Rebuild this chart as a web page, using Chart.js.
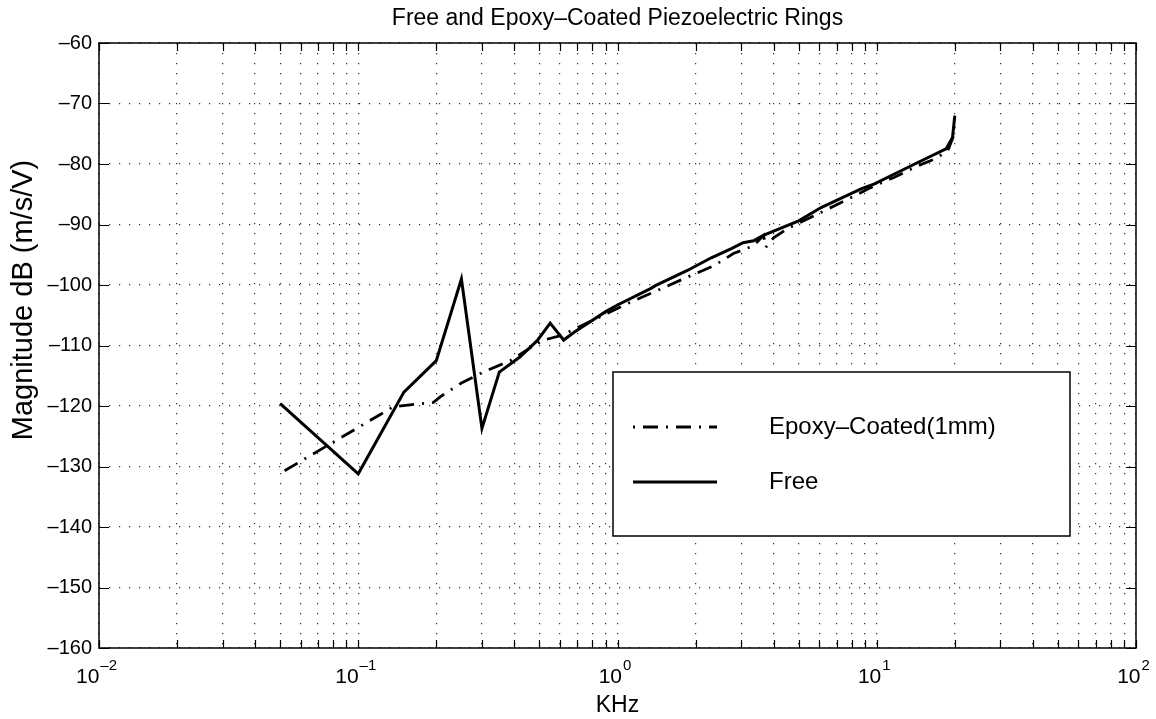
<!DOCTYPE html>
<html>
<head>
<meta charset="utf-8">
<title>Free and Epoxy-Coated Piezoelectric Rings</title>
<script src="https://cdn.jsdelivr.net/npm/chart.js@4.4.1/dist/chart.umd.min.js"></script>
<style>
  html, body { margin: 0; padding: 0; background: #fff; }
</style>
</head>
<body>
<canvas id="chart" width="1156" height="719"></canvas>
<script>
// frequency response, kHz vs dB (m/s/V)
const freeKHz = [0.05, 0.1, 0.15, 0.2, 0.25, 0.3, 0.35, 0.42, 0.49, 0.55, 0.62, 0.68, 0.9, 1.0, 1.34, 1.4, 1.86, 2.3, 2.75, 3.05, 3.35, 3.65, 5.0, 6.1, 8.7, 9.8, 14.8, 18.5, 19.6, 20];
const freeDb = [-119.6, -131.2, -117.7, -112.5, -99.0, -123.7, -114.4, -111.9, -109.2, -106.3, -109.1, -107.8, -104.4, -103.3, -100.6, -100.1, -97.6, -95.5, -94.0, -93.0, -92.7, -91.8, -89.4, -87.2, -84.1, -83.3, -79.5, -77.5, -75.6, -72.0];

const epoxyKHz = [0.052, 0.137, 0.195, 0.21, 0.25, 0.3, 0.386, 0.51, 0.61, 1.09, 1.86, 2.36, 2.8, 3.35, 3.66, 3.73, 4.0, 4.52, 5.9, 7.26, 9.48, 11.7, 14.4, 16.7, 18.8, 19.8, 20];
const epoxyDb = [-130.7, -120.1, -119.4, -118.3, -116.2, -114.5, -112.5, -109.2, -108.3, -103.1, -98.7, -96.8, -94.8, -93.5, -91.8, -93.8, -92.2, -90.7, -88.3, -86.4, -83.9, -82.2, -80.3, -79.2, -77.8, -75.3, -72.5];

// axis ticks
const xDecades = [-2, -1, 0, 1, 2];
const xExponentLabels = ['\u20132', '\u20131', '0', '1', '2'];
const xMinorSteps = [2, 3, 4, 5, 6, 7, 8, 9];
const yTicks = [-160, -150, -140, -130, -120, -110, -100, -90, -80, -70, -60];

const seriesNames = ['Epoxy\u2013Coated(1mm)', 'Free'];

const FONT = '"Liberation Sans", Arial, Helvetica, sans-serif';
const dashDot = [15, 8, 2, 8];

const xTickValues = [];
xDecades.forEach((d, i) => {
  xTickValues.push(Math.pow(10, d));
  if (i < xDecades.length - 1) {
    xMinorSteps.forEach(m => xTickValues.push(m * Math.pow(10, d)));
  }
});

const toPoints = (xs, ys) => xs.map((x, i) => ({ x: x, y: ys[i] }));

// frame, inward ticks, x labels with exponents, titles and the boxed legend
const decorations = {
  id: 'decorations',
  afterDraw(chart) {
    const ctx = chart.ctx;
    const a = chart.chartArea;
    const xs = chart.scales.x;
    const ys = chart.scales.y;
    ctx.save();
    ctx.strokeStyle = '#000';
    ctx.fillStyle = '#000';

    ctx.lineWidth = 1.5;
    ctx.strokeRect(a.left, a.top, a.right - a.left, a.bottom - a.top);

    ctx.lineWidth = 1.2;
    ctx.beginPath();
    xTickValues.forEach(v => {
      const px = Math.round(xs.getPixelForValue(v)) + 0.5;
      ctx.moveTo(px, a.bottom); ctx.lineTo(px, a.bottom - 8);
      ctx.moveTo(px, a.top); ctx.lineTo(px, a.top + 8);
    });
    yTicks.forEach(v => {
      const py = Math.round(ys.getPixelForValue(v)) + 0.5;
      ctx.moveTo(a.left, py); ctx.lineTo(a.left + 10, py);
      ctx.moveTo(a.right, py); ctx.lineTo(a.right - 10, py);
    });
    ctx.stroke();

    // 10^n labels
    ctx.textBaseline = 'alphabetic';
    ctx.textAlign = 'left';
    xDecades.forEach((d, i) => {
      const px = xs.getPixelForValue(Math.pow(10, d));
      ctx.font = '21px ' + FONT;
      const w1 = ctx.measureText('10').width;
      ctx.font = '15px ' + FONT;
      const w2 = ctx.measureText(xExponentLabels[i]).width;
      const x0 = px - (w1 + w2) / 2 - 3;
      ctx.font = '21px ' + FONT;
      ctx.fillText('10', x0, 683);
      ctx.font = '15px ' + FONT;
      ctx.fillText(xExponentLabels[i], x0 + w1 + 1, 670);
    });

    const cx = (a.left + a.right) / 2;
    ctx.textAlign = 'center';
    ctx.font = '23px ' + FONT;
    ctx.fillText('Free and Epoxy\u2013Coated Piezoelectric Rings', cx, 25);
    ctx.fillText('KHz', cx, 712);

    ctx.save();
    ctx.translate(32, 300);
    ctx.rotate(-Math.PI / 2);
    ctx.font = '29px ' + FONT;
    ctx.fillText('Magnitude dB (m/s/V)', 0, 0);
    ctx.restore();

    // legend
    const lx = 613, ly = 372, lw = 457, lh = 164;
    ctx.fillStyle = '#fff';
    ctx.fillRect(lx, ly, lw, lh);
    ctx.strokeStyle = '#000';
    ctx.lineWidth = 1.5;
    ctx.strokeRect(lx, ly, lw, lh);
    const rows = [427, 482];
    chart.data.datasets.forEach((ds, i) => {
      ctx.beginPath();
      ctx.lineWidth = ds.borderWidth;
      ctx.setLineDash(ds.borderDash || []);
      ctx.lineDashOffset = ds.borderDash ? 23 : 0;
      ctx.moveTo(633, rows[i]);
      ctx.lineTo(717, rows[i]);
      ctx.stroke();
      ctx.setLineDash([]);
      ctx.fillStyle = '#000';
      ctx.textAlign = 'left';
      ctx.textBaseline = 'middle';
      ctx.font = '24px ' + FONT;
      ctx.fillText(ds.label, 769, rows[i]);
    });
    ctx.restore();
  }
};

const gridStyle = { color: '#333', lineWidth: 1.2, drawTicks: false };

new Chart(document.getElementById('chart'), {
  type: 'line',
  data: {
    datasets: [
      {
        label: seriesNames[0],
        data: toPoints(epoxyKHz, epoxyDb),
        borderColor: '#000',
        borderWidth: 2.8,
        borderDash: dashDot,
        pointRadius: 0,
        tension: 0,
        fill: false
      },
      {
        label: seriesNames[1],
        data: toPoints(freeKHz, freeDb),
        borderColor: '#000',
        borderWidth: 3,
        pointRadius: 0,
        tension: 0,
        fill: false
      }
    ]
  },
  options: {
    responsive: false,
    animation: false,
    devicePixelRatio: 1,
    layout: { padding: { top: 43, right: 20, left: 0, bottom: 0 } },
    plugins: {
      legend: { display: false },
      title: { display: false },
      tooltip: { enabled: false }
    },
    scales: {
      x: {
        type: 'logarithmic',
        min: 0.01,
        max: 100,
        afterBuildTicks: scale => {
          scale.ticks = xTickValues.map(v => ({ value: v }));
        },
        afterFit: scale => { scale.height = 71; },
        ticks: { display: false, autoSkip: false },
        grid: gridStyle,
        border: { display: false, dash: [1.2, 8.8] }
      },
      y: {
        type: 'linear',
        min: -160,
        max: -60,
        afterBuildTicks: scale => {
          scale.ticks = yTicks.map(v => ({ value: v }));
        },
        afterFit: scale => { scale.width = 99; },
        ticks: {
          color: '#000',
          padding: 7,
          font: { family: FONT, size: 20 },
          callback: v => (v < 0 ? '\u2013' : '') + Math.abs(v)
        },
        grid: gridStyle,
        border: { display: false, dash: [1.2, 8.8] }
      }
    }
  },
  plugins: [decorations]
});
</script>
</body>
</html>
